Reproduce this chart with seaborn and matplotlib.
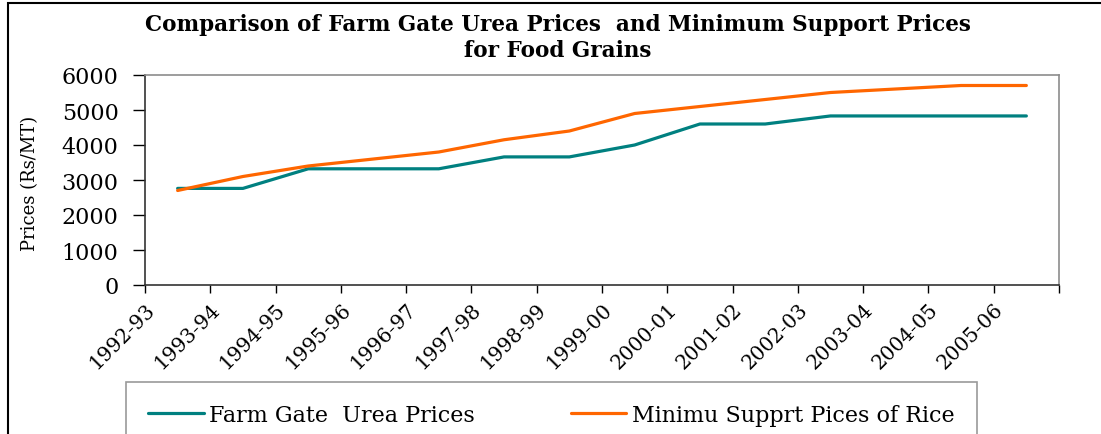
import numpy as np
import pandas as pd
import matplotlib
matplotlib.use("Agg")
import matplotlib.pyplot as plt
import seaborn as sns
from matplotlib.patches import Rectangle
from matplotlib.lines import Line2D

# --- data (Rs/MT) ---
years = ["1992-93", "1993-94", "1994-95", "1995-96", "1996-97", "1997-98", "1998-99",
         "1999-00", "2000-01", "2001-02", "2002-03", "2003-04", "2004-05", "2005-06"]
urea_prices = [2760, 2760, 3320, 3320, 3320, 3660, 3660, 4000, 4600, 4600, 4830, 4830, 4830, 4830]
rice_msp = [2700, 3100, 3400, 3600, 3800, 4150, 4400, 4900, 5100, 5300, 5500, 5600, 5700, 5700]
series_names = ["Farm Gate  Urea Prices", "Minimu Supprt Pices of Rice"]
series_colors = ["#008080", "#FF6600"]

df = pd.DataFrame({
    "year": years * 2,
    "pos": list(np.arange(len(years)) + 0.5) * 2,
    "price": urea_prices + rice_msp,
    "series": [series_names[0]] * len(years) + [series_names[1]] * len(years),
})

sns.set_style("white")
plt.rcParams["font.family"] = ["DejaVu Serif"]
plt.rcParams["text.color"] = "black"
plt.rcParams["xtick.color"] = "black"
plt.rcParams["ytick.color"] = "black"

W, H = 1101, 435
fig = plt.figure(figsize=(W / 100, H / 100), dpi=100)
ax = fig.add_axes([145 / W, 1 - 286 / H, (1059 - 145) / W, (286 - 76) / H])

sns.lineplot(data=df, x="pos", y="price", hue="series", palette=series_colors,
             linewidth=2.3, ax=ax, legend=False)

ax.set_xlim(0, len(years))
ax.set_ylim(0, 6000)
ax.set_yticks(range(0, 6001, 1000))
ax.set_xticks(range(len(years) + 1))
ax.set_xticklabels(years + [""], rotation=45, ha="right", rotation_mode="anchor", fontsize=14.5)
ax.tick_params(axis="y", labelsize=16, length=9, width=1, direction="out", left=True, pad=10)
ax.tick_params(axis="x", length=6, width=1, direction="out", bottom=True, pad=4)
ax.set_xlabel("")
ax.set_ylabel("")
for side in ["top", "right"]:
    ax.spines[side].set_color("#8c8c8c")
    ax.spines[side].set_linewidth(1.2)
for side in ["left", "bottom"]:
    ax.spines[side].set_color("#333333")
    ax.spines[side].set_linewidth(1.2)

fig.text(30 / W, 1 - 183 / H, "Prices (Rs/MT)", rotation=90, ha="center", va="center", fontsize=13)

fig.text(558 / W, 1 - 38 / H,
         "Comparison of Farm Gate Urea Prices  and Minimum Support Prices\nfor Food Grains",
         ha="center", va="center", fontsize=15.5, fontweight="bold", linespacing=1.25)

handles = [Line2D([0], [0], color=c, lw=2.3) for c in series_colors]
leg = fig.legend(handles, series_names, loc="upper left", bbox_to_anchor=(126 / W, 1 - 383 / H),
                 ncol=2, frameon=True, fancybox=False, edgecolor="#808080", fontsize=16,
                 handlelength=2.5, handletextpad=0.25, columnspacing=4.3, borderpad=1.0,
                 borderaxespad=0)
leg.get_frame().set_linewidth(1.2)

# chart outer border
fig.patches.append(Rectangle((8 / W, -0.2), 1.2, 1.2 - 4 / H, transform=fig.transFigure,
                             fill=False, edgecolor="black", linewidth=1.5))

fig.savefig("out.png", dpi=100)
